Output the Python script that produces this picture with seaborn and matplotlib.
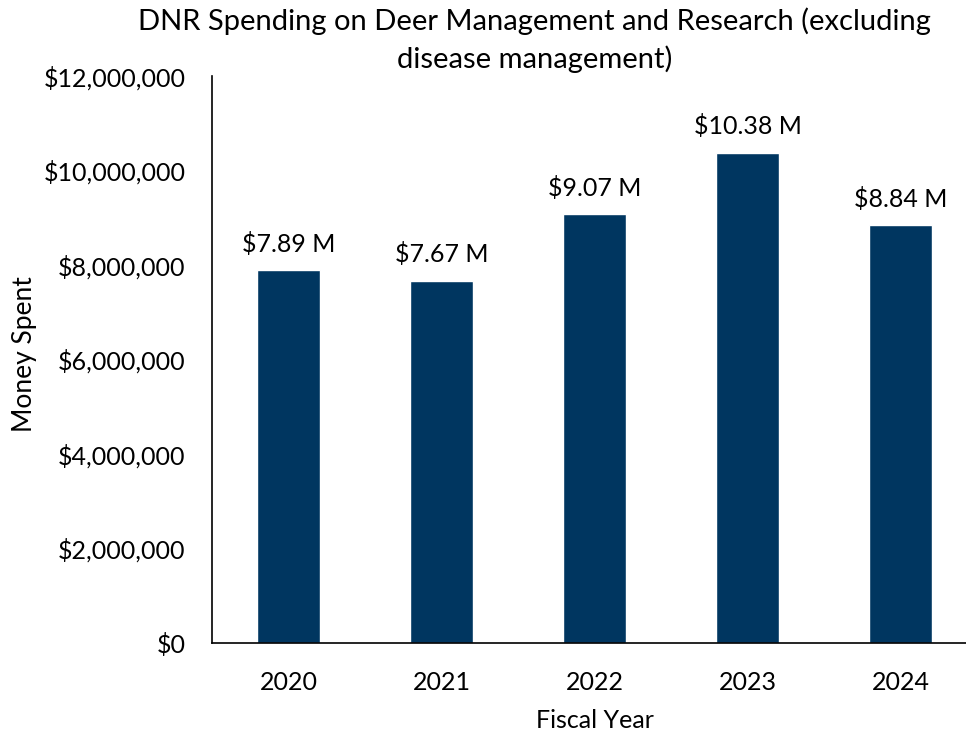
import matplotlib
matplotlib.use("Agg")
import matplotlib.pyplot as plt
import seaborn as sns
import pandas as pd
from matplotlib.ticker import FuncFormatter

years = ["2020", "2021", "2022", "2023", "2024"]
spending = [7890000, 7670000, 9070000, 10380000, 8840000]
bar_labels = ["$7.89 M", "$7.67 M", "$9.07 M", "$10.38 M", "$8.84 M"]

sns.set_theme(style="white")
plt.rcParams['font.family'] = ['Lato', 'DejaVu Sans']

df = pd.DataFrame({"Fiscal Year": years, "Money Spent": spending})

fig = plt.figure(figsize=(9.66, 7.36), dpi=100)
ax = fig.add_axes([212/966, (736-643)/736, 765/966, (643-76)/736])
sns.barplot(data=df, x="Fiscal Year", y="Money Spent", color="#003660",
            saturation=1, width=0.41, ax=ax)
ax.set_xlim(-0.5, 4.5)
ax.set_ylim(0, 12000000)
ax.set_yticks(range(0, 12000001, 2000000))
ax.yaxis.set_major_formatter(FuncFormatter(lambda v, p: f"${int(v):,}"))
for s in ["top", "right"]:
    ax.spines[s].set_visible(False)
for s in ["left", "bottom"]:
    ax.spines[s].set_color("black")
    ax.spines[s].set_linewidth(1.2)
ax.tick_params(axis="both", labelsize=18, colors="black", length=0)
ax.tick_params(axis="x", pad=20)
ax.tick_params(axis="y", pad=19)
for i, (v, lab) in enumerate(zip(spending, bar_labels)):
    ax.text(i, v + 300000, lab, ha="center", va="bottom", fontsize=18, color="black")
ax.set_xlabel("Fiscal Year", fontsize=18, color="black", labelpad=11)
ax.set_ylabel("Money Spent", fontsize=19, color="black")
ax.yaxis.set_label_coords((37 - 212) / 765, 0.51)
fig.text(0.553, 0.99, "DNR Spending on Deer Management and Research (excluding\ndisease management)",
         ha="center", va="top", fontsize=21, color="black", linespacing=1.45)
fig.savefig("out.png", dpi=100)
